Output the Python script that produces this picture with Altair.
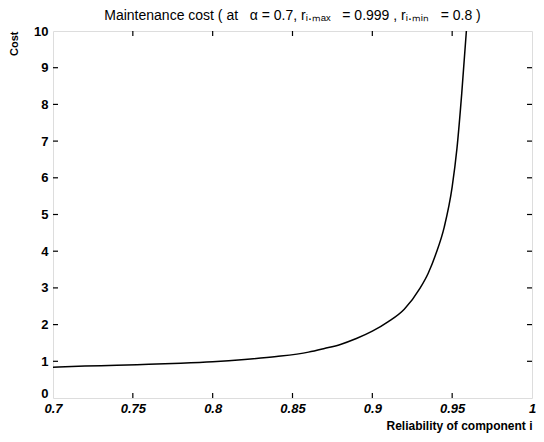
import altair as alt
import pandas as pd

# Data
reliability = [0.70, 0.72, 0.74, 0.76, 0.78, 0.80, 0.82, 0.84, 0.86, 0.87, 0.88,
               0.89, 0.90, 0.91, 0.92, 0.93, 0.935, 0.94, 0.945, 0.95, 0.953,
               0.956, 0.9589]
cost = [0.84, 0.87, 0.89, 0.92, 0.95, 0.99, 1.05, 1.13, 1.25, 1.35, 1.46,
        1.62, 1.82, 2.08, 2.42, 3.0, 3.4, 3.95, 4.65, 5.75, 6.8, 8.3, 10.0]

x_ticks = [0.7, 0.75, 0.8, 0.85, 0.9, 0.95, 1.0]
y_ticks = [0, 1, 2, 3, 4, 5, 6, 7, 8, 9, 10]
x_inner = [0.75, 0.8, 0.85, 0.9, 0.95]
y_inner = [1, 2, 3, 4, 5, 6, 7, 8, 9]

title_text = ("Maintenance cost ( at\u00a0\u00a0 α = 0.7, rᵢ.ₘₐₓ\u00a0\u00a0 = 0.999 ,"
              " rᵢ.ₘᵢₙ\u00a0\u00a0 = 0.8 )")

W, H = 479, 367

df = pd.DataFrame({"r": reliability, "cost": cost})
dx = pd.DataFrame({"r": x_inner})
dy = pd.DataFrame({"cost": y_inner})

xscale = alt.Scale(domain=[0.7, 1.0], nice=False, zero=False)
yscale = alt.Scale(domain=[0, 10], nice=False)

xaxis = alt.Axis(values=x_ticks, format="~g", grid=False, domain=False, ticks=False,
                 labelFlush=False, labelOverlap=False,
                 labelFont="Liberation Sans", labelFontSize=13, labelFontWeight="bold",
                 labelFontStyle="italic", labelColor="black", labelPadding=4,
                 title="Reliability of component i", titleFont="Liberation Sans",
                 titleFontSize=12, titleFontWeight="bold", titleColor="black",
                 titleAnchor="end", titlePadding=5)
yaxis = alt.Axis(values=y_ticks, grid=False, domain=False, ticks=False,
                 labelFlush=False, labelOverlap=False,
                 labelOffset={"condition": {"test": "datum.value == 0", "value": -5},
                              "value": 0},
                 labelFont="Liberation Sans", labelFontSize=13, labelFontWeight="bold",
                 labelColor="black", labelPadding=5,
                 title="Cost", titleFont="Liberation Sans", titleFontSize=11,
                 titleFontWeight="bold", titleColor="black", titleAnchor="end",
                 titlePadding=14)

line = alt.Chart(df).mark_line(color="black", strokeWidth=1.5, clip=True,
                               interpolate="monotone").encode(
    x=alt.X("r:Q", scale=xscale, axis=xaxis),
    y=alt.Y("cost:Q", scale=yscale, axis=yaxis),
)

tick_style = dict(color="black", strokeWidth=1.2)
bottom = alt.Chart(dx).mark_rule(**tick_style).encode(
    x=alt.X("r:Q", scale=xscale, axis=xaxis), y=alt.value(H), y2=alt.value(H - 5))
top = alt.Chart(dx).mark_rule(**tick_style).encode(
    x=alt.X("r:Q", scale=xscale, axis=xaxis), y=alt.value(0), y2=alt.value(5))
left = alt.Chart(dy).mark_rule(**tick_style).encode(
    y=alt.Y("cost:Q", scale=yscale, axis=yaxis), x=alt.value(0), x2=alt.value(5))
right = alt.Chart(dy).mark_rule(**tick_style).encode(
    y=alt.Y("cost:Q", scale=yscale, axis=yaxis), x=alt.value(W), x2=alt.value(W - 5))

chart = alt.layer(line, bottom, top, left, right).properties(
    width=W, height=H,
    autosize=alt.AutoSizeParams(type="none"),
    padding={"left": 45, "top": 23, "right": 4, "bottom": 36},
    title=alt.TitleParams(title_text, font="Liberation Sans", fontSize=14,
                          fontWeight="normal", color="black", anchor="middle",
                          offset=2),
).configure_view(stroke="black", strokeWidth=1.5).configure(background="white")

chart.save("out.html", embed_options={"renderer": "svg", "actions": False})
